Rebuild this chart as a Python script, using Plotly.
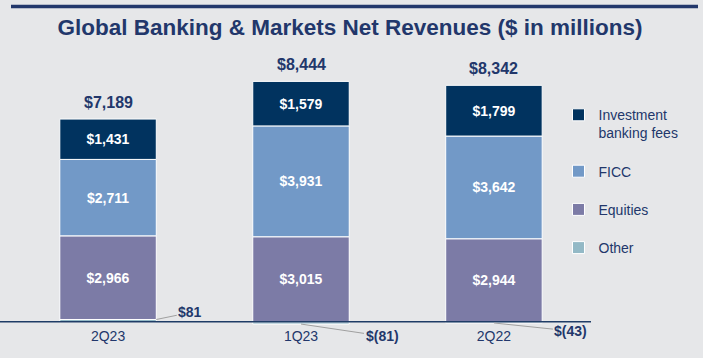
import plotly.graph_objects as go

categories = ["2Q23", "1Q23", "2Q22"]
other = [81, -81, -43]
equities = [2966, 3015, 2944]
ficc = [2711, 3931, 3642]
ib_fees = [1431, 1579, 1799]
totals = [7189, 8444, 8342]
other_labels = ["$81", "$(81)", "$(43)"]

NAVY = "#22376B"
BG = "#E6E7E9"
xs = list(range(len(categories)))
BW = 0.5

def money(v):
    return f"${v:,}"

fig = go.Figure()
series = [
    ("Other", other, "#93B9C6", False, 4),
    ("Equities", equities, "#7C7BA6", True, 3),
    ("FICC", ficc, "#7299C7", True, 2),
    ("Investment<br>banking fees", ib_fees, "#01335F", True, 1),
]
for i, (name, vals, color, show, rank) in enumerate(series):
    fig.add_trace(go.Bar(
        x=xs, y=vals, name=name, width=BW,
        marker=dict(color=color, line=dict(color="white", width=1)),
        text=[money(v) for v in vals] if show else None,
        textposition="inside" if show else "none",
        insidetextanchor="middle",
        textfont=dict(color="white", size=14, family="Liberation Sans, Arial"),
        texttemplate="<b>%{text}</b>" if show else None,
        legendgroup=f"g{i}", legendrank=rank,
        hoverinfo="skip",
    ))

annotations = []
for i, t in enumerate(totals):
    pos_top = sum(v for v in (other[i], equities[i], ficc[i], ib_fees[i]) if v > 0)
    annotations.append(dict(
        x=xs[i], y=pos_top, text=f"<b>{money(t)}</b>", showarrow=False,
        yanchor="bottom", yshift=6,
        font=dict(size=16, color=NAVY, family="Liberation Sans, Arial"),
    ))

# "Other" callouts with leader lines
annotations.append(dict(
    x=xs[0] + BW / 2, y=other[0], text=f"<b>{other_labels[0]}</b>",
    showarrow=True, arrowhead=0, arrowwidth=1, arrowcolor="#A0A0A0",
    ax=34, ay=-7, font=dict(size=14, color=NAVY, family="Liberation Sans, Arial"),
))
annotations.append(dict(
    x=xs[1], y=other[1], text=f"<b>{other_labels[1]}</b>",
    showarrow=True, arrowhead=0, arrowwidth=1, arrowcolor="#A0A0A0",
    ax=81, ay=12, font=dict(size=14, color=NAVY, family="Liberation Sans, Arial"),
))
annotations.append(dict(
    x=xs[2], y=other[2], text=f"<b>{other_labels[2]}</b>",
    showarrow=True, arrowhead=0, arrowwidth=1, arrowcolor="#A0A0A0",
    ax=77, ay=8, font=dict(size=14, color=NAVY, family="Liberation Sans, Arial"),
))

fig.update_layout(
    width=703, height=358,
    paper_bgcolor=BG, plot_bgcolor=BG,
    barmode="relative",
    margin=dict(l=0, r=112, t=46, b=32, autoexpand=False),
    title=dict(
        text="<b>Global Banking & Markets Net Revenues ($ in millions)</b>",
        x=350 / 703, xanchor="center", xref="container",
        y=1 - 27 / 358, yanchor="middle", yref="container",
        font=dict(size=22.5, color=NAVY, family="Liberation Sans, Arial"),
    ),
    xaxis=dict(
        range=[-0.56, 2.503], tickvals=xs, ticktext=categories,
        showgrid=False, zeroline=False, showline=False, ticks="",
        tickfont=dict(size=14, color=NAVY, family="Liberation Sans, Arial"),
        fixedrange=True,
    ),
    yaxis=dict(range=[-150, 9780], visible=False, showgrid=False, zeroline=False),
    legend=dict(
        x=0.945, xanchor="left", y=0.81, yanchor="top",
        traceorder="grouped", tracegroupgap=17, valign="top",
        font=dict(size=14, color=NAVY, family="Liberation Sans, Arial"),
        bgcolor="rgba(0,0,0,0)", itemclick=False, itemdoubleclick=False,
    ),
    annotations=annotations,
    shapes=[
        dict(type="line", xref="paper", yref="y", x0=0, x1=1, y0=0, y1=0,
             line=dict(color="#1F3C66", width=1.5), layer="above"),
        dict(type="line", xref="paper", yref="paper", x0=11 / 591, x1=698 / 591,
             y0=1 + (46 - 6.5) / 280, y1=1 + (46 - 6.5) / 280,
             line=dict(color="#22376B", width=3.5)),
    ],
    font=dict(family="Liberation Sans, Arial"),
)

fig.write_html(
    "out.html",
    config={"displayModeBar": False},
    post_script="document.body.style.margin='0';document.body.style.background='#E6E7E9';",
)
